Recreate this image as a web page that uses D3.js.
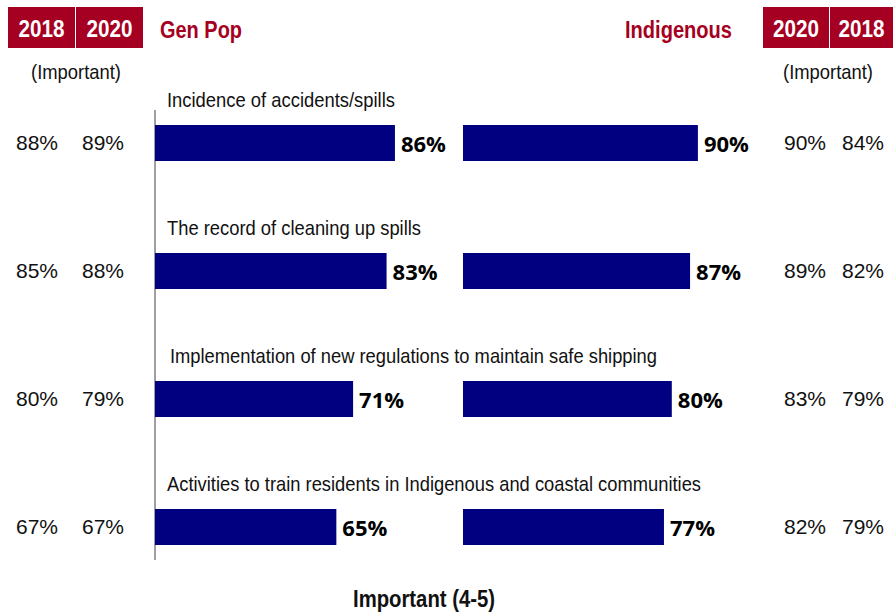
<!DOCTYPE html>
<html><head><meta charset="utf-8">
<script src="https://cdn.jsdelivr.net/npm/d3@7"></script>
<style>body{margin:0;background:#fff}</style>
</head><body>
<script>
const categories = [
  "Incidence of accidents/spills",
  "The record of cleaning up spills",
  "Implementation of new regulations to maintain safe shipping",
  "Activities to train residents in Indigenous and coastal communities"
];
const genPop2020 = [86, 83, 71, 65];
const indigenous2020 = [90, 87, 80, 77];
const genPopImp2018 = ["88%", "85%", "80%", "67%"];
const genPopImp2020 = ["89%", "88%", "79%", "67%"];
const indImp2020 = ["90%", "89%", "83%", "82%"];
const indImp2018 = ["84%", "82%", "79%", "79%"];

const W = 893, H = 612;
const red = "#A50021", navy = "#000080";
const narrow = "'Liberation Sans',Arial,sans-serif";
const svg = d3.select("body").append("svg").attr("width", W).attr("height", H);

const y = d3.scaleBand().domain(categories).range([79, 591]).paddingInner(0).paddingOuter(0);
const xL = d3.scaleLinear().domain([0, 100]).range([155, 434]);
const xR = d3.scaleLinear().domain([0, 100]).range([463, 724]);
const barH = 36, barOff = 46;

// header boxes
const boxes = [
  {x: 8, w: 67, t: "2018"}, {x: 76, w: 67, t: "2020"},
  {x: 763, w: 66, t: "2020"}, {x: 830, w: 63, t: "2018"}
];
svg.selectAll("rect.hdr").data(boxes).join("rect").attr("class","hdr")
  .attr("x", d => d.x).attr("y", 7).attr("width", d => d.w).attr("height", 41).attr("fill", red);
svg.selectAll("text.hdr").data(boxes).join("text").attr("class","hdr")
  .attr("x", d => d.x + d.w/2 - 23).attr("y", 37)
  .attr("textLength", 46).attr("lengthAdjust","spacingAndGlyphs")
  .attr("fill","#fff").attr("font-family", narrow).attr("font-weight","bold").attr("font-size", 24)
  .text(d => d.t);
svg.append("text").attr("x", 160).attr("y", 38).attr("fill", red).attr("font-family", narrow)
  .attr("textLength", 82).attr("lengthAdjust","spacingAndGlyphs")
  .attr("font-weight","bold").attr("font-size", 24).text("Gen Pop");
svg.append("text").attr("x", 625).attr("y", 38).attr("fill", red).attr("font-family", narrow)
  .attr("textLength", 107).attr("lengthAdjust","spacingAndGlyphs")
  .attr("font-weight","bold").attr("font-size", 24).text("Indigenous");
[31, 783].forEach(x0 => svg.append("text").attr("x", x0).attr("y", 79)
  .attr("textLength", 90).attr("lengthAdjust","spacingAndGlyphs")
  .attr("font-family", narrow).attr("font-size", 21).attr("fill","#111").text("(Important)"));

// axis line
svg.append("line").attr("x1", 155).attr("x2", 155).attr("y1", 110).attr("y2", 560)
  .attr("stroke", "#808080").attr("stroke-width", 1.5);

// category labels
const labX = [167, 167, 170, 167];
const labW = [228, 254, 487, 534];
svg.selectAll("text.cat").data(categories).join("text").attr("class","cat")
  .attr("x", (d,i) => labX[i]).attr("y", d => y(d) + 28)
  .attr("textLength", (d,i) => labW[i]).attr("lengthAdjust","spacingAndGlyphs")
  .attr("font-family", narrow).attr("font-size", 21).attr("fill","#111").text(d => d);

// bars
svg.selectAll("rect.gp").data(genPop2020).join("rect").attr("class","gp")
  .attr("x", xL(0)).attr("y", (d,i) => y(categories[i]) + barOff)
  .attr("width", d => xL(d) - xL(0)).attr("height", barH).attr("fill", navy);
svg.selectAll("rect.ind").data(indigenous2020).join("rect").attr("class","ind")
  .attr("x", xR(0)).attr("y", (d,i) => y(categories[i]) + barOff)
  .attr("width", d => xR(d) - xR(0)).attr("height", barH).attr("fill", navy);

const valFont = "'Open Sans','Noto Sans',sans-serif";
svg.selectAll("text.gpv").data(genPop2020).join("text").attr("class","gpv")
  .attr("x", d => xL(d) + 6).attr("y", (d,i) => y(categories[i]) + barOff + 27)
  .attr("font-family", valFont).attr("font-weight","bold").attr("font-size", 22).attr("fill","#000")
  .text(d => d + "%");
svg.selectAll("text.indv").data(indigenous2020).join("text").attr("class","indv")
  .attr("x", d => xR(d) + 6).attr("y", (d,i) => y(categories[i]) + barOff + 27)
  .attr("font-family", valFont).attr("font-weight","bold").attr("font-size", 22).attr("fill","#000")
  .text(d => d + "%");

// side columns
const cols = [
  {cx: 37, vals: genPopImp2018}, {cx: 103, vals: genPopImp2020},
  {cx: 805, vals: indImp2020}, {cx: 863, vals: indImp2018}
];
cols.forEach(c => {
  svg.selectAll(null).data(c.vals).join("text")
    .attr("x", c.cx).attr("y", (d,i) => y(categories[i]) + barOff + 25)
    .attr("text-anchor","middle").attr("font-family","'Liberation Sans',Arial,sans-serif")
    .attr("font-size", 21).attr("fill","#111").text(d => d);
});

svg.append("text").attr("x", 353).attr("y", 607)
  .attr("textLength", 142).attr("lengthAdjust","spacingAndGlyphs")
  .attr("font-family", narrow).attr("font-weight","bold").attr("font-size", 23).attr("fill","#111")
  .text("Important (4-5)");
</script>
</body></html>
